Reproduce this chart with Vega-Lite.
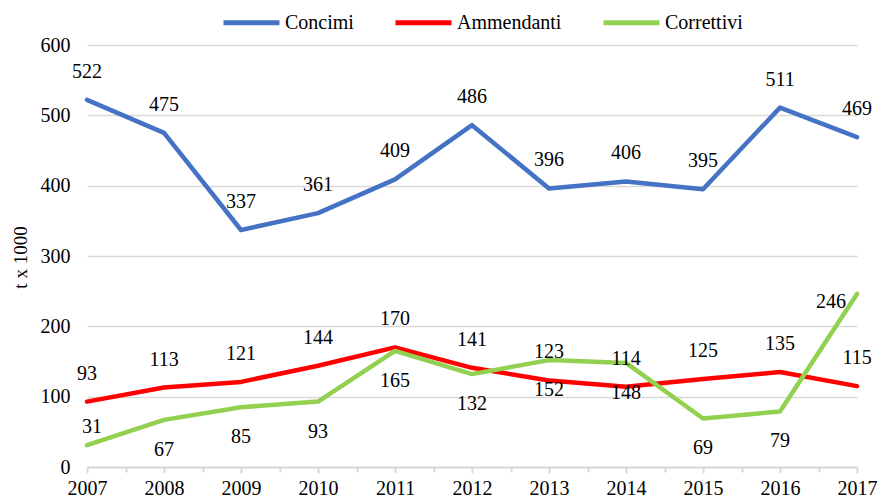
{
  "$schema": "https://vega.github.io/schema/vega-lite/v6.json",
  "width": 770,
  "height": 422,
  "autosize": "none",
  "padding": {"left": 87, "top": 45, "right": 21, "bottom": 32},
  "background": "#ffffff",
  "config": {
    "view": {"stroke": null},
    "font": "Liberation Serif",
    "text": {"font": "Liberation Serif"}
  },
  "data": {
    "values": [
      {"Anno": 2007, "Serie": "Concimi", "Valore": 522},
      {"Anno": 2008, "Serie": "Concimi", "Valore": 475},
      {"Anno": 2009, "Serie": "Concimi", "Valore": 337},
      {"Anno": 2010, "Serie": "Concimi", "Valore": 361},
      {"Anno": 2011, "Serie": "Concimi", "Valore": 409},
      {"Anno": 2012, "Serie": "Concimi", "Valore": 486},
      {"Anno": 2013, "Serie": "Concimi", "Valore": 396},
      {"Anno": 2014, "Serie": "Concimi", "Valore": 406},
      {"Anno": 2015, "Serie": "Concimi", "Valore": 395},
      {"Anno": 2016, "Serie": "Concimi", "Valore": 511},
      {"Anno": 2017, "Serie": "Concimi", "Valore": 469},
      {"Anno": 2007, "Serie": "Ammendanti", "Valore": 93},
      {"Anno": 2008, "Serie": "Ammendanti", "Valore": 113},
      {"Anno": 2009, "Serie": "Ammendanti", "Valore": 121},
      {"Anno": 2010, "Serie": "Ammendanti", "Valore": 144},
      {"Anno": 2011, "Serie": "Ammendanti", "Valore": 170},
      {"Anno": 2012, "Serie": "Ammendanti", "Valore": 141},
      {"Anno": 2013, "Serie": "Ammendanti", "Valore": 123},
      {"Anno": 2014, "Serie": "Ammendanti", "Valore": 114},
      {"Anno": 2015, "Serie": "Ammendanti", "Valore": 125},
      {"Anno": 2016, "Serie": "Ammendanti", "Valore": 135},
      {"Anno": 2017, "Serie": "Ammendanti", "Valore": 115},
      {"Anno": 2007, "Serie": "Correttivi", "Valore": 31},
      {"Anno": 2008, "Serie": "Correttivi", "Valore": 67},
      {"Anno": 2009, "Serie": "Correttivi", "Valore": 85},
      {"Anno": 2010, "Serie": "Correttivi", "Valore": 93},
      {"Anno": 2011, "Serie": "Correttivi", "Valore": 165},
      {"Anno": 2012, "Serie": "Correttivi", "Valore": 132},
      {"Anno": 2013, "Serie": "Correttivi", "Valore": 152},
      {"Anno": 2014, "Serie": "Correttivi", "Valore": 148},
      {"Anno": 2015, "Serie": "Correttivi", "Valore": 69},
      {"Anno": 2016, "Serie": "Correttivi", "Valore": 79},
      {"Anno": 2017, "Serie": "Correttivi", "Valore": 246}
    ]
  },
  "encoding": {
    "x": {
      "field": "Anno",
      "type": "quantitative",
      "scale": {"domain": [2007, 2017], "nice": false, "zero": false},
      "axis": {
        "title": null,
        "grid": false,
        "values": [2007, 2007.5, 2008, 2008.5, 2009, 2009.5, 2010, 2010.5, 2011, 2011.5, 2012, 2012.5, 2013, 2013.5, 2014, 2014.5, 2015, 2015.5, 2016, 2016.5, 2017],
        "labelExpr": "datum.value % 1 === 0 ? format(datum.value, 'd') : ''",
        "labelOverlap": false,
        "labelFlush": false,
        "labelFont": "Liberation Serif",
        "labelFontSize": 20,
        "labelColor": "#000000",
        "labelPadding": 5,
        "domainColor": "#d9d9d9",
        "domainWidth": 2,
        "tickColor": "#d9d9d9",
        "tickWidth": 2,
        "tickSize": {"condition": {"test": "datum.value % 1 === 0", "value": 6}, "value": 5}
      }
    },
    "y": {
      "field": "Valore",
      "type": "quantitative",
      "scale": {"domain": [0, 600], "nice": false},
      "axis": {
        "title": "t x 1000",
        "titleFont": "Liberation Serif",
        "titleFontSize": 19,
        "titleFontWeight": "normal",
        "titleColor": "#000000",
        "titleX": -67,
        "titleY": 212,
        "titleBaseline": "middle",
        "titleAngle": -90,
        "values": [0, 100, 200, 300, 400, 500, 600],
        "domain": false,
        "ticks": false,
        "labelFont": "Liberation Serif",
        "labelFontSize": 20,
        "labelColor": "#000000",
        "labelPadding": 17,
        "gridColor": "#d9d9d9",
        "gridWidth": 1.5
      }
    },
    "color": {
      "field": "Serie",
      "type": "nominal",
      "scale": {
        "domain": ["Concimi", "Ammendanti", "Correttivi"],
        "range": ["#4472c4", "#ff0000", "#92d050"]
      },
      "legend": {
        "title": null,
        "orient": "none",
        "direction": "horizontal",
        "legendX": 134,
        "legendY": -53,
        "symbolType": "stroke",
        "symbolSize": 3136,
        "symbolStrokeWidth": 5,
        "labelFont": "Liberation Serif",
        "labelFontSize": 20,
        "labelColor": "#000000",
        "labelOffset": 3,
        "columnPadding": 31
      }
    }
  },
  "layer": [
    {
      "mark": {"type": "line", "strokeWidth": 4.5, "strokeJoin": "round", "strokeCap": "round"},
      "encoding": {"order": {"field": "Anno"}}
    },
    {
      "transform": [{"filter": "datum.Serie !== 'Correttivi'"}],
      "mark": {"type": "text", "fontSize": 20, "font": "Liberation Serif", "dy": -28, "baseline": "middle"},
      "encoding": {"text": {"field": "Valore", "type": "quantitative"}, "color": {"value": "#000000"}}
    },
    {
      "transform": [{"filter": "datum.Serie === 'Correttivi' && datum.Anno > 2007 && datum.Anno < 2017"}],
      "mark": {"type": "text", "fontSize": 20, "font": "Liberation Serif", "dy": 30, "baseline": "middle"},
      "encoding": {"text": {"field": "Valore", "type": "quantitative"}, "color": {"value": "#000000"}}
    },
    {
      "transform": [{"filter": "datum.Serie === 'Correttivi' && datum.Anno === 2007"}],
      "mark": {"type": "text", "fontSize": 20, "font": "Liberation Serif", "dx": 5, "dy": -18, "baseline": "middle"},
      "encoding": {"text": {"field": "Valore", "type": "quantitative"}, "color": {"value": "#000000"}}
    },
    {
      "transform": [{"filter": "datum.Serie === 'Correttivi' && datum.Anno === 2017"}],
      "mark": {"type": "text", "fontSize": 20, "font": "Liberation Serif", "dx": -26, "dy": 8, "baseline": "middle"},
      "encoding": {"text": {"field": "Valore", "type": "quantitative"}, "color": {"value": "#000000"}}
    }
  ]
}
